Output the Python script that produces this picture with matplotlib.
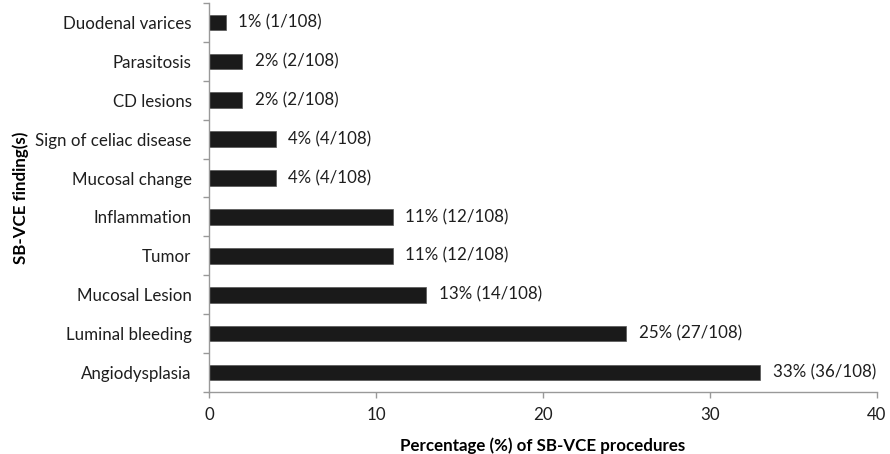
import matplotlib
matplotlib.use('Agg')
import matplotlib.pyplot as plt

plt.rcParams['font.family'] = ['Lato', 'DejaVu Sans']

# findings, bottom to top as drawn
findings = ['Angiodysplasia', 'Luminal bleeding', 'Mucosal Lesion', 'Tumor',
            'Inflammation', 'Mucosal change', 'Sign of celiac disease',
            'CD lesions', 'Parasitosis', 'Duodenal varices']
percent = [33, 25, 13, 11, 11, 4, 4, 2, 2, 1]
counts = [36, 27, 14, 12, 12, 4, 4, 2, 2, 1]
total = 108

fig = plt.figure(figsize=(8.9, 4.54), dpi=100)
ax = fig.add_axes([0.2348, 0.1366, 0.7506, 0.8568])

ypos = list(range(len(findings)))
ax.barh(ypos, percent, height=0.4, color='#1a1a1a', edgecolor='#555555', linewidth=0.5)

for y, p, c in zip(ypos, percent, counts):
    ax.text(p + 0.75, y, f'{p}% ({c}/{total})', va='center', ha='left', fontsize=12.2, color='#1e1e1e')

ax.set_xlim(0, 40)
ax.set_ylim(-0.5, len(findings) - 0.5)
ax.set_xticks([0, 10, 20, 30, 40])
ax.set_yticks(ypos)
ax.set_yticklabels(findings)
ax.set_yticks([y + 0.5 for y in range(-1, len(findings))], minor=True)
ax.tick_params(axis='y', which='major', length=0, pad=12.5, labelsize=12.2, labelcolor='#1e1e1e')
ax.tick_params(axis='y', which='minor', length=4, color='#999999', width=1)
ax.tick_params(axis='x', length=4, color='#999999', width=1, labelsize=12.2, labelcolor='#1e1e1e', pad=7)

for s in ['top', 'right']:
    ax.spines[s].set_visible(False)
for s in ['left', 'bottom']:
    ax.spines[s].set_color('#999999')
    ax.spines[s].set_linewidth(1)

ax.set_xlabel('Percentage (%) of SB-VCE procedures', fontsize=12.2, fontweight='bold', labelpad=10)
ax.set_ylabel('SB-VCE finding(s)', fontsize=12.2, fontweight='bold', labelpad=4.5)

fig.savefig('out.png', dpi=100)
